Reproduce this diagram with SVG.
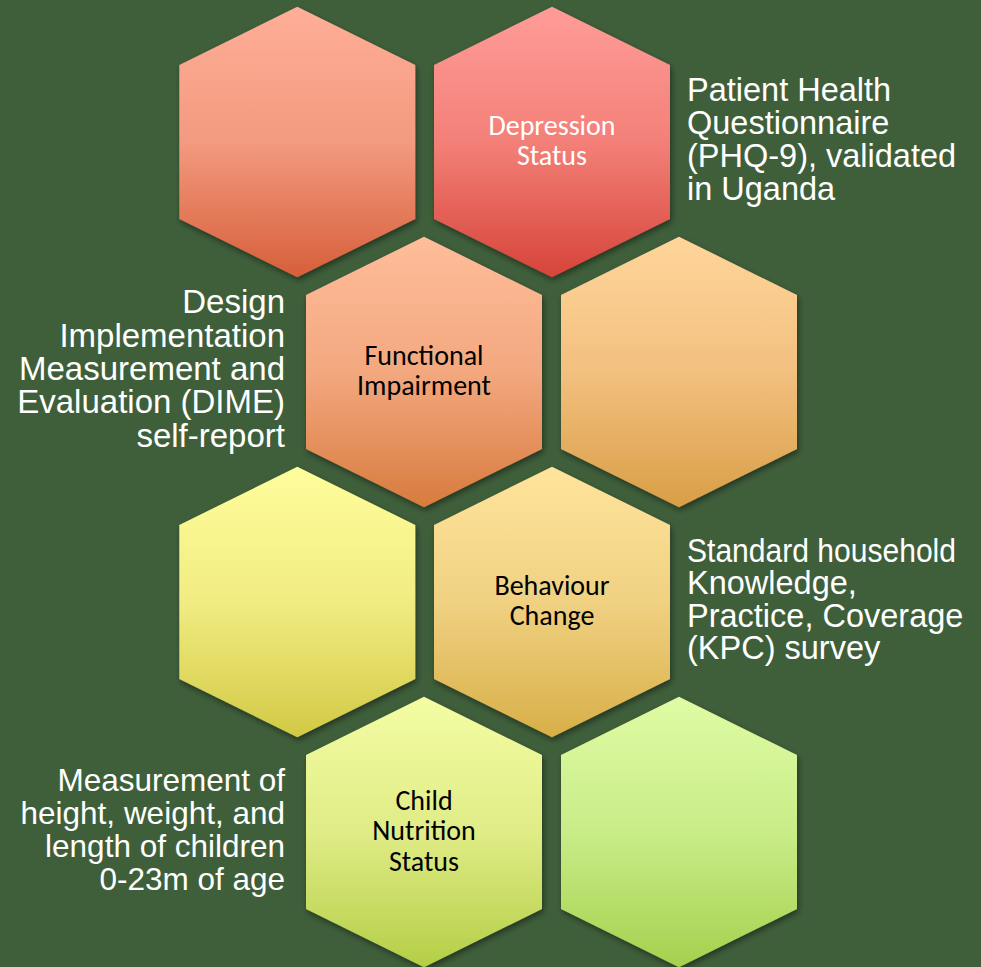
<svg xmlns="http://www.w3.org/2000/svg" width="981" height="967" viewBox="0 0 981 967">
  <defs>
    <style>
      .note { font-family: "Liberation Sans", Arial, sans-serif; font-size: 32.5px; fill: #ffffff; }
      .note-r { text-anchor: end; font-size: 33px; }
      .note-s { font-size: 31.5px; }
      .label { font-family: Calibri, Carlito, Lato, "Open Sans", sans-serif; font-size: 28px; text-anchor: middle; fill: #000000; }
      .label-light { fill: #ffffff; }
    </style>
    <!-- pointy-top hexagon centred on the origin -->
    <path id="hex" d="M0,-135.3 L118,-77 L118,77 L0,135.3 L-118,77 L-118,-77 Z"/>
    <filter id="shadow" x="-20%" y="-20%" width="140%" height="140%">
      <feDropShadow dx="1.5" dy="3" stdDeviation="3" flood-color="#000000" flood-opacity="0.45"/>
    </filter>
    <linearGradient id="g-salmon" x1="0" y1="0" x2="0" y2="1">
      <stop offset="0" stop-color="#FFAE98"/>
      <stop offset="0.5" stop-color="#F39A7F"/>
      <stop offset="1" stop-color="#D65F3A"/>
    </linearGradient>
    <linearGradient id="g-red" x1="0" y1="0" x2="0" y2="1">
      <stop offset="0" stop-color="#FF9C98"/>
      <stop offset="0.5" stop-color="#F38078"/>
      <stop offset="1" stop-color="#D6443A"/>
    </linearGradient>
    <linearGradient id="g-peach" x1="0" y1="0" x2="0" y2="1">
      <stop offset="0" stop-color="#FFBD9A"/>
      <stop offset="0.5" stop-color="#F3A87F"/>
      <stop offset="1" stop-color="#D87B3E"/>
    </linearGradient>
    <linearGradient id="g-apricot" x1="0" y1="0" x2="0" y2="1">
      <stop offset="0" stop-color="#FFD59A"/>
      <stop offset="0.5" stop-color="#F2C07F"/>
      <stop offset="1" stop-color="#D99E46"/>
    </linearGradient>
    <linearGradient id="g-yellow" x1="0" y1="0" x2="0" y2="1">
      <stop offset="0" stop-color="#FFFE9C"/>
      <stop offset="0.5" stop-color="#F1EC82"/>
      <stop offset="1" stop-color="#D2C945"/>
    </linearGradient>
    <linearGradient id="g-sand" x1="0" y1="0" x2="0" y2="1">
      <stop offset="0" stop-color="#FFE49C"/>
      <stop offset="0.5" stop-color="#F0D182"/>
      <stop offset="1" stop-color="#D8AF48"/>
    </linearGradient>
    <linearGradient id="g-lime" x1="0" y1="0" x2="0" y2="1">
      <stop offset="0" stop-color="#F4FDA4"/>
      <stop offset="0.5" stop-color="#E0EC86"/>
      <stop offset="1" stop-color="#B4CE46"/>
    </linearGradient>
    <linearGradient id="g-green" x1="0" y1="0" x2="0" y2="1">
      <stop offset="0" stop-color="#DFFCA4"/>
      <stop offset="0.5" stop-color="#C9EC88"/>
      <stop offset="1" stop-color="#A4D14E"/>
    </linearGradient>
  </defs>

  <rect width="981" height="967" fill="#3F5F3B"/>

  <!-- row 1 -->
  <g id="hex-row1-left">
    <use href="#hex" transform="translate(297.3,142)" fill="url(#g-salmon)" filter="url(#shadow)"/>
  </g>
  <g id="depression-status">
    <use href="#hex" transform="translate(552,142)" fill="url(#g-red)" filter="url(#shadow)"/>
    <text class="label label-light"><tspan x="552" y="135">Depression</tspan><tspan x="552" y="165">Status</tspan></text>
  </g>

  <!-- row 2 -->
  <g id="functional-impairment">
    <use href="#hex" transform="translate(424,372)" fill="url(#g-peach)" filter="url(#shadow)"/>
    <text class="label"><tspan x="424" y="365">Functional</tspan><tspan x="424" y="394.5">Impairment</tspan></text>
  </g>
  <g id="hex-row2-right">
    <use href="#hex" transform="translate(679,372)" fill="url(#g-apricot)" filter="url(#shadow)"/>
  </g>

  <!-- row 3 -->
  <g id="hex-row3-left">
    <use href="#hex" transform="translate(297.3,602)" fill="url(#g-yellow)" filter="url(#shadow)"/>
  </g>
  <g id="behaviour-change">
    <use href="#hex" transform="translate(552,602)" fill="url(#g-sand)" filter="url(#shadow)"/>
    <text class="label"><tspan x="552" y="595">Behaviour</tspan><tspan x="552" y="624.5">Change</tspan></text>
  </g>

  <!-- row 4 -->
  <g id="child-nutrition-status">
    <use href="#hex" transform="translate(424,832)" fill="url(#g-lime)" filter="url(#shadow)"/>
    <text class="label"><tspan x="424" y="810">Child</tspan><tspan x="424" y="840">Nutrition</tspan><tspan x="424" y="871">Status</tspan></text>
  </g>
  <g id="hex-row4-right">
    <use href="#hex" transform="translate(679,832)" fill="url(#g-green)" filter="url(#shadow)"/>
  </g>

  <!-- measurement notes beside the hexagons -->
  <g id="note-phq9">
    <text class="note"><tspan x="687" y="101">Patient Health</tspan><tspan x="687" y="134">Questionnaire</tspan><tspan x="687" y="167">(PHQ-9), validated</tspan><tspan x="687" y="200">in Uganda</tspan></text>
  </g>
  <g id="note-dime">
    <text class="note note-r"><tspan x="285" y="313">Design</tspan><tspan x="285" y="346.5">Implementation</tspan><tspan x="285" y="380">Measurement and</tspan><tspan x="285" y="413">Evaluation (DIME)</tspan><tspan x="285" y="446.5">self-report</tspan></text>
  </g>
  <g id="note-kpc">
    <text class="note"><tspan x="687" y="561.5" textLength="269" lengthAdjust="spacingAndGlyphs">Standard household</tspan><tspan x="687" y="594">Knowledge,</tspan><tspan x="687" y="626.5">Practice, Coverage</tspan><tspan x="687" y="659">(KPC) survey</tspan></text>
  </g>
  <g id="note-anthropometry">
    <text class="note note-r note-s"><tspan x="285" y="791">Measurement of</tspan><tspan x="285" y="824">height, weight, and</tspan><tspan x="285" y="857">length of children</tspan><tspan x="285" y="890">0-23m of age</tspan></text>
  </g>
</svg>
